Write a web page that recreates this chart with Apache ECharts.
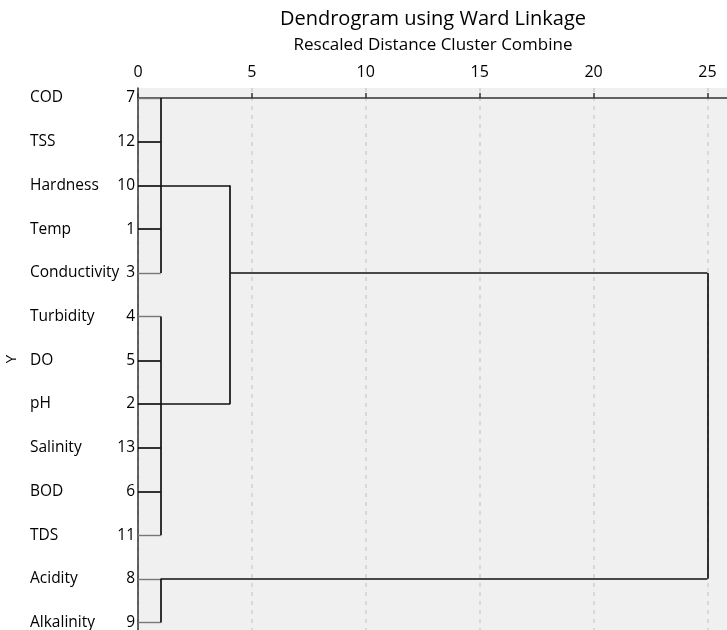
<!DOCTYPE html>
<html>
<head>
<meta charset="utf-8">
<script src="https://cdn.jsdelivr.net/npm/echarts@6/dist/echarts.min.js"></script>
<style>html,body{margin:0;padding:0;background:#fff}#c{width:727px;height:630px}</style>
</head>
<body>
<div id="c"></div>
<script>
// Leaves, top to bottom
const leafNames = ['COD','TSS','Hardness','Temp','Conductivity','Turbidity','DO','pH','Salinity','BOD','TDS','Acidity','Alkalinity'];
const leafIds = [7,12,10,1,3,4,5,2,13,6,11,8,9];
// Clusters (children: leaf row numbers or 'cN' references)
const clusterHeights = [1.0, 1.0, 1.0, 4.05, 25];
const clusterChildren = [[0,1,2,3,4],[5,6,7,8,9,10],[11,12],['c0','c1'],['c3','c2']];
const clusterJoinRow = [2, 7, 11, 4, null];
const xTicks = [0,5,10,15,20,25];

const segs = [];
clusterChildren.forEach((ch, k) => {
  const h = clusterHeights[k];
  const rows = ch.map(c => typeof c === 'number' ? c : clusterJoinRow[+c.slice(1)]);
  const minR = Math.min(...rows), maxR = Math.max(...rows);
  ch.forEach((c, j) => {
    const isLeaf = typeof c === 'number';
    const from = isLeaf ? 0 : clusterHeights[+c.slice(1)];
    const edge = isLeaf && (rows[j] === minR || rows[j] === maxR);
    segs.push({coords: [[from, rows[j]], [h, rows[j]]],
      lineStyle: {color: edge ? '#777' : '#111', width: edge ? 1.4 : 1.7, opacity: 1}});
  });
  segs.push({coords: [[h, minR], [h, maxR]], lineStyle: {color: '#111', width: 1.7, opacity: 1}});
});

const chart = echarts.init(document.getElementById('c'));
chart.setOption({
  backgroundColor: '#fff',
  animation: false,
  title: {
    text: 'Dendrogram using Ward Linkage',
    subtext: 'Rescaled Distance Cluster Combine',
    left: 433, top: 7, textAlign: 'center', padding: 0, itemGap: 4,
    textStyle: {fontFamily: 'Open Sans', fontSize: 20, fontWeight: 'normal', color: '#000', lineHeight: 24},
    subtextStyle: {fontFamily: 'Open Sans', fontSize: 17, color: '#000', lineHeight: 20}
  },
  grid: {left: 138, right: 0, top: 88, bottom: 0, show: true, backgroundColor: '#f0f0f0', borderWidth: 0,
    containLabel: false, outerBoundsMode: 'none'},
  xAxis: {
    type: 'value', position: 'top', min: 0, max: 25.86, interval: 5,
    axisLine: {show: true, lineStyle: {color: '#333', width: 1.5}},
    axisTick: {show: true, length: 5, lineStyle: {color: '#333', width: 1.5}, customValues: xTicks},
    axisLabel: {color: '#000', fontFamily: 'Open Sans', fontSize: 16, margin: 8, customValues: xTicks},
    splitLine: {show: true, lineStyle: {type: [4, 5], color: '#d0d0d0', width: 1.5}}
  },
  yAxis: {
    type: 'value', inverse: true, min: -0.23, max: 12.17,
    name: 'Y', nameLocation: 'middle', nameRotate: 90, nameGap: 118,
    nameTextStyle: {fontFamily: 'Open Sans', fontSize: 15, color: '#000'},
    axisLine: {show: true, lineStyle: {color: '#333', width: 1.5}},
    axisTick: {show: false},
    splitLine: {show: false},
    axisLabel: {
      customValues: leafNames.map((_, i) => i), margin: 3,
      formatter: v => '{n|' + leafNames[v] + '}{i|' + leafIds[v] + '}',
      rich: {
        n: {width: 89, align: 'left', fontFamily: 'Open Sans', fontSize: 15.5, color: '#000'},
        i: {width: 16, align: 'right', fontFamily: 'Open Sans', fontSize: 15.5, color: '#000'}
      }
    }
  },
  series: [{
    type: 'lines', coordinateSystem: 'cartesian2d', polyline: false,
    silent: true, data: segs, z: 5, lineStyle: {opacity: 1}
  }]
});
</script>
</body>
</html>
